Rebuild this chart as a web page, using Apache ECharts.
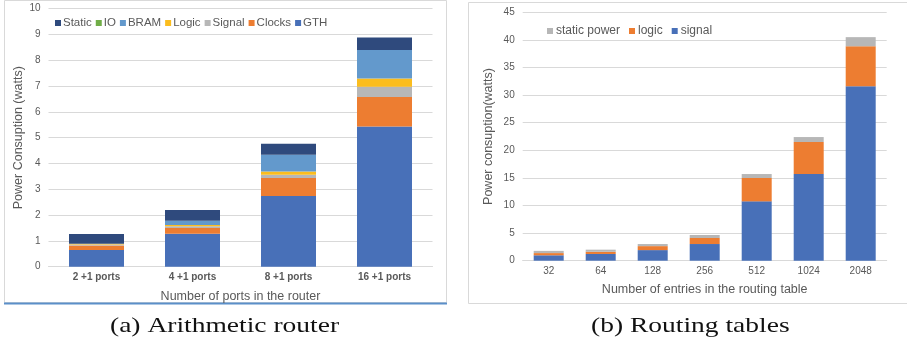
<!DOCTYPE html>
<html>
<head>
<meta charset="utf-8">
<script src="https://cdn.jsdelivr.net/npm/echarts@6/dist/echarts.min.js"></script>
<style>
html,body{margin:0;padding:0;background:#fff;}
#c{width:907px;height:346px;}
</style>
</head>
<body>
<div id="c"></div>
<script>
// Left chart: Arithmetic router
const routerCategories = ['2 +1 ports', '4 +1 ports', '8 +1 ports', '16 +1 ports'];
const gth    = [0.65, 1.28, 2.74, 5.43];
const clocks = [0.17, 0.22, 0.70, 1.15];
const signal = [0.04, 0.07, 0.12, 0.39];
const logic  = [0.03, 0.05, 0.13, 0.32];
const bram   = [0.00, 0.16, 0.65, 1.11];
const io     = [0.00, 0.00, 0.00, 0.00];
const stat   = [0.38, 0.42, 0.43, 0.48];
const leftTicks = [0, 1, 2, 3, 4, 5, 6, 7, 8, 9, 10];

// Right chart: Routing tables
const tableCategories = ['32', '64', '128', '256', '512', '1024', '2048'];
const rtSignal = [0.98, 1.22, 1.92, 3.02, 10.75, 15.7, 31.6];
const rtLogic  = [0.40, 0.40, 0.72, 1.09, 4.23, 5.8, 7.25];
const rtStatic = [0.40, 0.38, 0.38, 0.55, 0.72, 0.9, 1.65];
const rightTicks = [0, 5, 10, 15, 20, 25, 30, 35, 40, 45];

const C = {
  gth: '#4870B8', clocks: '#ED7D31', signal: '#B7B7B7', logic: '#FBBD1E',
  bram: '#6399CC', io: '#70AD47', stat: '#2F4A7D'
};
const FONT = 'Liberation Sans';
const chart = echarts.init(document.getElementById('c'), null, {renderer: 'canvas'});

function yAxisCommon(idx, max, interval, name, nameGap) {
  return {
    type: 'value', gridIndex: idx, min: 0, max: max, interval: interval,
    name: name, nameLocation: 'middle', nameGap: nameGap,
    nameTextStyle: {fontFamily: FONT, fontSize: 12.5, color: '#595959'},
    axisLine: {show: false}, axisTick: {show: false},
    axisLabel: {fontFamily: FONT, fontSize: 10, color: '#595959', margin: 8},
    splitLine: {lineStyle: {color: '#D9D9D9', width: 1}}
  };
}

function bar(name, data, color, xi, yi, stack, bw) {
  return {
    name: name, type: 'bar', data: data, stack: stack,
    xAxisIndex: xi, yAxisIndex: yi, barWidth: bw,
    itemStyle: {color: color}, emphasis: {disabled: true}
  };
}

const option = {
  animation: false,
  backgroundColor: '#fff',
  grid: [
    {left: 48.5, width: 384, top: 8.7, height: 258},
    {left: 522.7, width: 364, top: 12.3, height: 248.4}
  ],
  legend: [
    {
      data: ['Static', 'IO', 'BRAM', 'Logic', 'Signal', 'Clocks', 'GTH'],
      left: 50, top: 12, itemWidth: 6, itemHeight: 6, itemGap: 4,
      icon: 'rect',
      textStyle: {fontFamily: FONT, fontSize: 11.5, color: '#595959', padding: [0, 0, 0, -3]}
    },
    {
      data: ['static power', 'logic', 'signal'],
      left: 542, top: 20, itemWidth: 6, itemHeight: 6, itemGap: 9,
      icon: 'rect',
      textStyle: {fontFamily: FONT, fontSize: 12, color: '#595959', padding: [0, 0, 0, -2]}
    }
  ],
  xAxis: [
    {
      type: 'category', gridIndex: 0, data: routerCategories,
      name: 'Number of ports in the router', nameLocation: 'middle', nameGap: 23,
      nameTextStyle: {fontFamily: FONT, fontSize: 12.5, color: '#595959'},
      axisLine: {lineStyle: {color: '#D9D9D9'}}, axisTick: {show: false},
      axisLabel: {fontFamily: FONT, fontSize: 10, fontWeight: 'bold', color: '#595959', margin: 6}
    },
    {
      type: 'category', gridIndex: 1, data: tableCategories,
      name: 'Number of entries in the routing table', nameLocation: 'middle', nameGap: 22,
      nameTextStyle: {fontFamily: FONT, fontSize: 12.5, color: '#595959'},
      axisLine: {lineStyle: {color: '#D9D9D9'}}, axisTick: {show: false},
      axisLabel: {fontFamily: FONT, fontSize: 10, color: '#595959', margin: 6}
    }
  ],
  yAxis: [
    yAxisCommon(0, leftTicks[leftTicks.length - 1], leftTicks[1] - leftTicks[0], 'Power Consuption (watts)', 20),
    yAxisCommon(1, rightTicks[rightTicks.length - 1], rightTicks[1] - rightTicks[0], 'Power consuption(watts)', 28)
  ],
  series: [
    bar('GTH', gth, C.gth, 0, 0, 'a', 55),
    bar('Clocks', clocks, C.clocks, 0, 0, 'a', 55),
    bar('Signal', signal, C.signal, 0, 0, 'a', 55),
    bar('Logic', logic, C.logic, 0, 0, 'a', 55),
    bar('BRAM', bram, C.bram, 0, 0, 'a', 55),
    bar('IO', io, C.io, 0, 0, 'a', 55),
    bar('Static', stat, C.stat, 0, 0, 'a', 55),
    bar('signal', rtSignal, C.gth, 1, 1, 'b', 30),
    bar('logic', rtLogic, C.clocks, 1, 1, 'b', 30),
    bar('static power', rtStatic, C.signal, 1, 1, 'b', 30)
  ],
  graphic: [
    {type: 'rect', shape: {x: 4.5, y: 0.5, width: 442, height: 302}, style: {fill: null, stroke: '#D9D9D9', lineWidth: 1}, silent: true},
    {type: 'line', shape: {x1: 4, y1: 303.5, x2: 447, y2: 303.5}, style: {stroke: '#5B8FC9', lineWidth: 2}, silent: true},
    {type: 'rect', shape: {x: 468.5, y: 2.5, width: 445, height: 301}, style: {fill: null, stroke: '#D9D9D9', lineWidth: 1}, silent: true},
    {type: 'text', x: 110, y: 315, scaleX: 1.25, style: {text: '(a) Arithmetic router', font: '22px "Liberation Serif"', fill: '#111'}},
    {type: 'text', x: 591, y: 315, scaleX: 1.25, style: {text: '(b) Routing tables', font: '22px "Liberation Serif"', fill: '#111'}}
  ]
};
chart.setOption(option);
</script>
</body>
</html>
